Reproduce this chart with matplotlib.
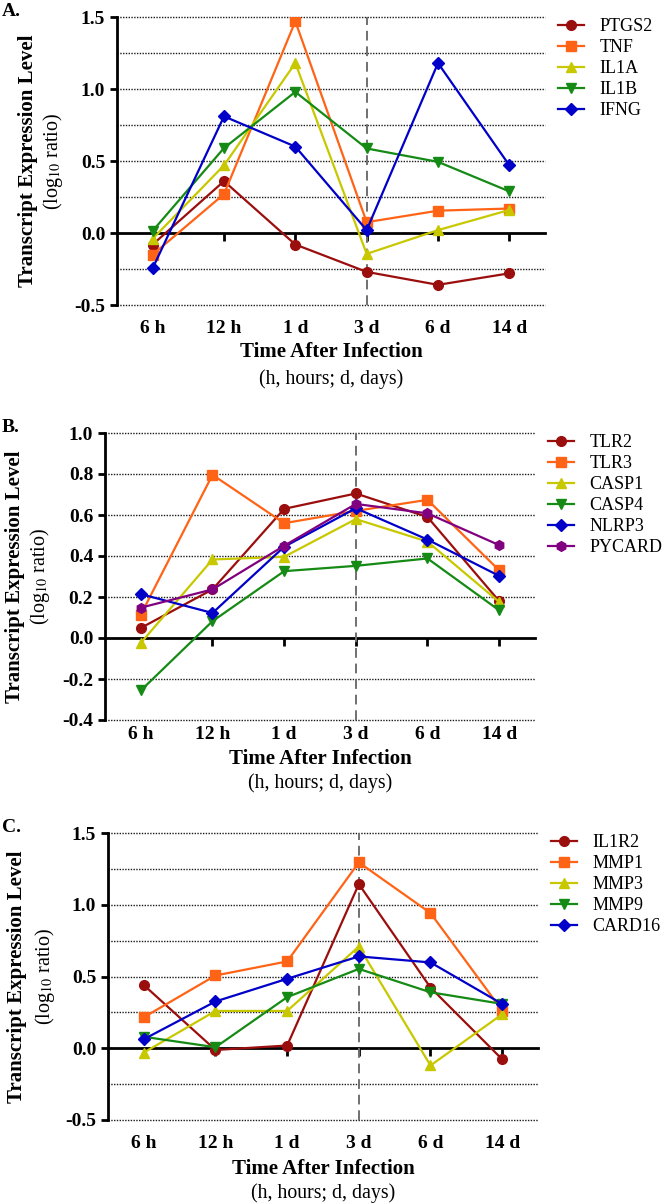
import matplotlib
matplotlib.use("Agg")
import matplotlib.pyplot as plt
from matplotlib.ticker import MultipleLocator, FormatStrFormatter

plt.rcParams["font.family"] = ["Liberation Serif", "DejaVu Serif"]
plt.rcParams["mathtext.fontset"] = "stix"

times = ["6 h", "12 h", "1 d", "3 d", "6 d", "14 d"]

# panel A
ptgs2 = [-0.08, 0.36, -0.08, -0.27, -0.36, -0.28]
tnf = [-0.15, 0.27, 1.47, 0.075, 0.155, 0.17]
il1a = [-0.04, 0.47, 1.18, -0.145, 0.02, 0.16]
il1b = [0.015, 0.59, 0.98, 0.587, 0.494, 0.289]
ifng = [-0.245, 0.81, 0.60, 0.02, 1.18, 0.47]

# panel B
tlr2 = [0.049, 0.237, 0.63, 0.705, 0.59, 0.18]
tlr3 = [0.114, 0.796, 0.56, 0.62, 0.674, 0.33]
casp1 = [-0.024, 0.383, 0.396, 0.58, 0.47, 0.176]
casp4 = [-0.256, 0.082, 0.326, 0.352, 0.388, 0.135]
nlrp3 = [0.214, 0.122, 0.445, 0.633, 0.48, 0.303]
pycard = [0.148, 0.237, 0.45, 0.654, 0.608, 0.453]

# panel C
il1r2 = [0.44, -0.012, 0.019, 1.144, 0.423, -0.077]
mmp1 = [0.216, 0.507, 0.605, 1.295, 0.942, 0.263]
mmp3 = [-0.03, 0.26, 0.26, 0.709, -0.12, 0.237]
mmp9 = [0.08, 0.007, 0.356, 0.553, 0.39, 0.309]
card16 = [0.063, 0.326, 0.484, 0.64, 0.598, 0.309]

RED, ORANGE, YELLOW, GREEN, BLUE, PURPLE = "#9B0E0E", "#FF6315", "#C8C800", "#158A15", "#0000C8", "#800080"

panels = [
    dict(letter="A.", rect=[117, 17, 545, 305], ylim=(-0.5, 1.5), major=0.5, minor=0.25, pad=11,
         series=[("PTGS2", ptgs2, RED, "o"), ("TNF", tnf, ORANGE, "s"), ("IL1A", il1a, YELLOW, "^"),
                 ("IL1B", il1b, GREEN, "v"), ("IFNG", ifng, BLUE, "D")],
         ylab_x=(28, 53), xlab_y=(352, 379), letter_y=11),
    dict(letter="B.", rect=[105, 433, 535, 720], ylim=(-0.4, 1.0), major=0.2, minor=0.2, pad=4,
         series=[("TLR2", tlr2, RED, "o"), ("TLR3", tlr3, ORANGE, "s"), ("CASP1", casp1, YELLOW, "^"),
                 ("CASP4", casp4, GREEN, "v"), ("NLRP3", nlrp3, BLUE, "D"), ("PYCARD", pycard, PURPLE, "h")],
         ylab_x=(15, 40), xlab_y=(759, 783), letter_y=427),
    dict(letter="C.", rect=[108, 833, 538, 1120], ylim=(-0.5, 1.5), major=0.5, minor=0.25, pad=11,
         series=[("IL1R2", il1r2, RED, "o"), ("MMP1", mmp1, ORANGE, "s"), ("MMP3", mmp3, YELLOW, "^"),
                 ("MMP9", mmp9, GREEN, "v"), ("CARD16", card16, BLUE, "D")],
         ylab_x=(17, 45), xlab_y=(1169, 1193), letter_y=828),
]

W, H = 666, 1204
fig = plt.figure(figsize=(W / 100, H / 100), dpi=100)

for p in panels:
    l, t, r, b = p["rect"]
    ax = fig.add_axes([l / W, 1 - b / H, (r - l) / W, (b - t) / H])
    x = list(range(len(times)))
    for name, vals, col, mk in p["series"]:
        ms = 7 if mk != "D" else 6.2
        ax.plot(x, vals, color=col, marker=mk, ms=ms, lw=1.6, label=name, zorder=3)

    ymin, ymax = p["ylim"]
    ax.set_xlim(-0.5, len(times) - 0.5)
    ax.set_ylim(ymin, ymax)
    ax.yaxis.set_major_locator(MultipleLocator(p["major"]))
    ax.yaxis.set_minor_locator(MultipleLocator(p["minor"]))
    ax.yaxis.set_major_formatter(FormatStrFormatter("%.1f"))
    # dotted grid lines (drawn unclipped so the edge ones stay full)
    grid_at = sorted(set(ax.yaxis.get_minorticklocs()) | set(ax.yaxis.get_majorticklocs()))
    for gy in grid_at:
        if ymin - 1e-9 <= gy <= ymax + 1e-9 and abs(gy) > 1e-9:
            ax.axhline(gy, color="#1a1a1a", ls=(0, (1, 1)), lw=1.0, zorder=0, clip_on=False)
    ax.axvline(3, color="#707070", ls=(0, (5, 3)), lw=1.4, zorder=1)

    for s in ["top", "right", "bottom"]:
        ax.spines[s].set_visible(False)
    ax.spines["left"].set_linewidth(2)
    ax.tick_params(axis="y", which="major", length=5, width=2, labelsize=14)
    ax.tick_params(axis="y", which="minor", length=0)
    for lab in ax.get_yticklabels():
        lab.set_fontweight("bold")

    ax.set_xticks(x)
    ax.set_xticklabels(times, fontsize=14, fontweight="bold")
    ax.tick_params(axis="x", length=0, pad=p["pad"])

    # zero line with tick marks
    sec = ax.secondary_xaxis((0 - ymin) / (ymax - ymin))
    sec.set_xticks(x)
    sec.set_xticklabels([])
    sec.spines["bottom"].set_linewidth(2)
    sec.tick_params(axis="x", length=6, width=2, direction="out")

    ax.legend(loc="upper left", bbox_to_anchor=(1.03, 0.995), frameon=False, fontsize=13,
              handlelength=1.45, handletextpad=0.85, labelspacing=0.22, borderpad=0, borderaxespad=0)

    cx = (l + r) / 2 / W
    fig.text(cx, 1 - p["xlab_y"][0] / H, "Time After Infection", ha="center", va="center",
             fontsize=15, fontweight="bold")
    fig.text(cx, 1 - p["xlab_y"][1] / H, "(h, hours; d, days)", ha="center", va="center", fontsize=14.3)
    cy = 1 - (t + b) / 2 / H
    fig.text(p["ylab_x"][0] / W, cy, "Transcript Expression Level", rotation=90, ha="center", va="center",
             fontsize=15, fontweight="bold")
    fig.text(p["ylab_x"][1] / W, cy, r"(log$_{10}$ ratio)", rotation=90, ha="center", va="center", fontsize=14.5)
    fig.text(2 / W, 1 - p["letter_y"] / H, p["letter"], ha="left", va="center", fontsize=14, fontweight="bold")

fig.savefig("out.png", dpi=100)
